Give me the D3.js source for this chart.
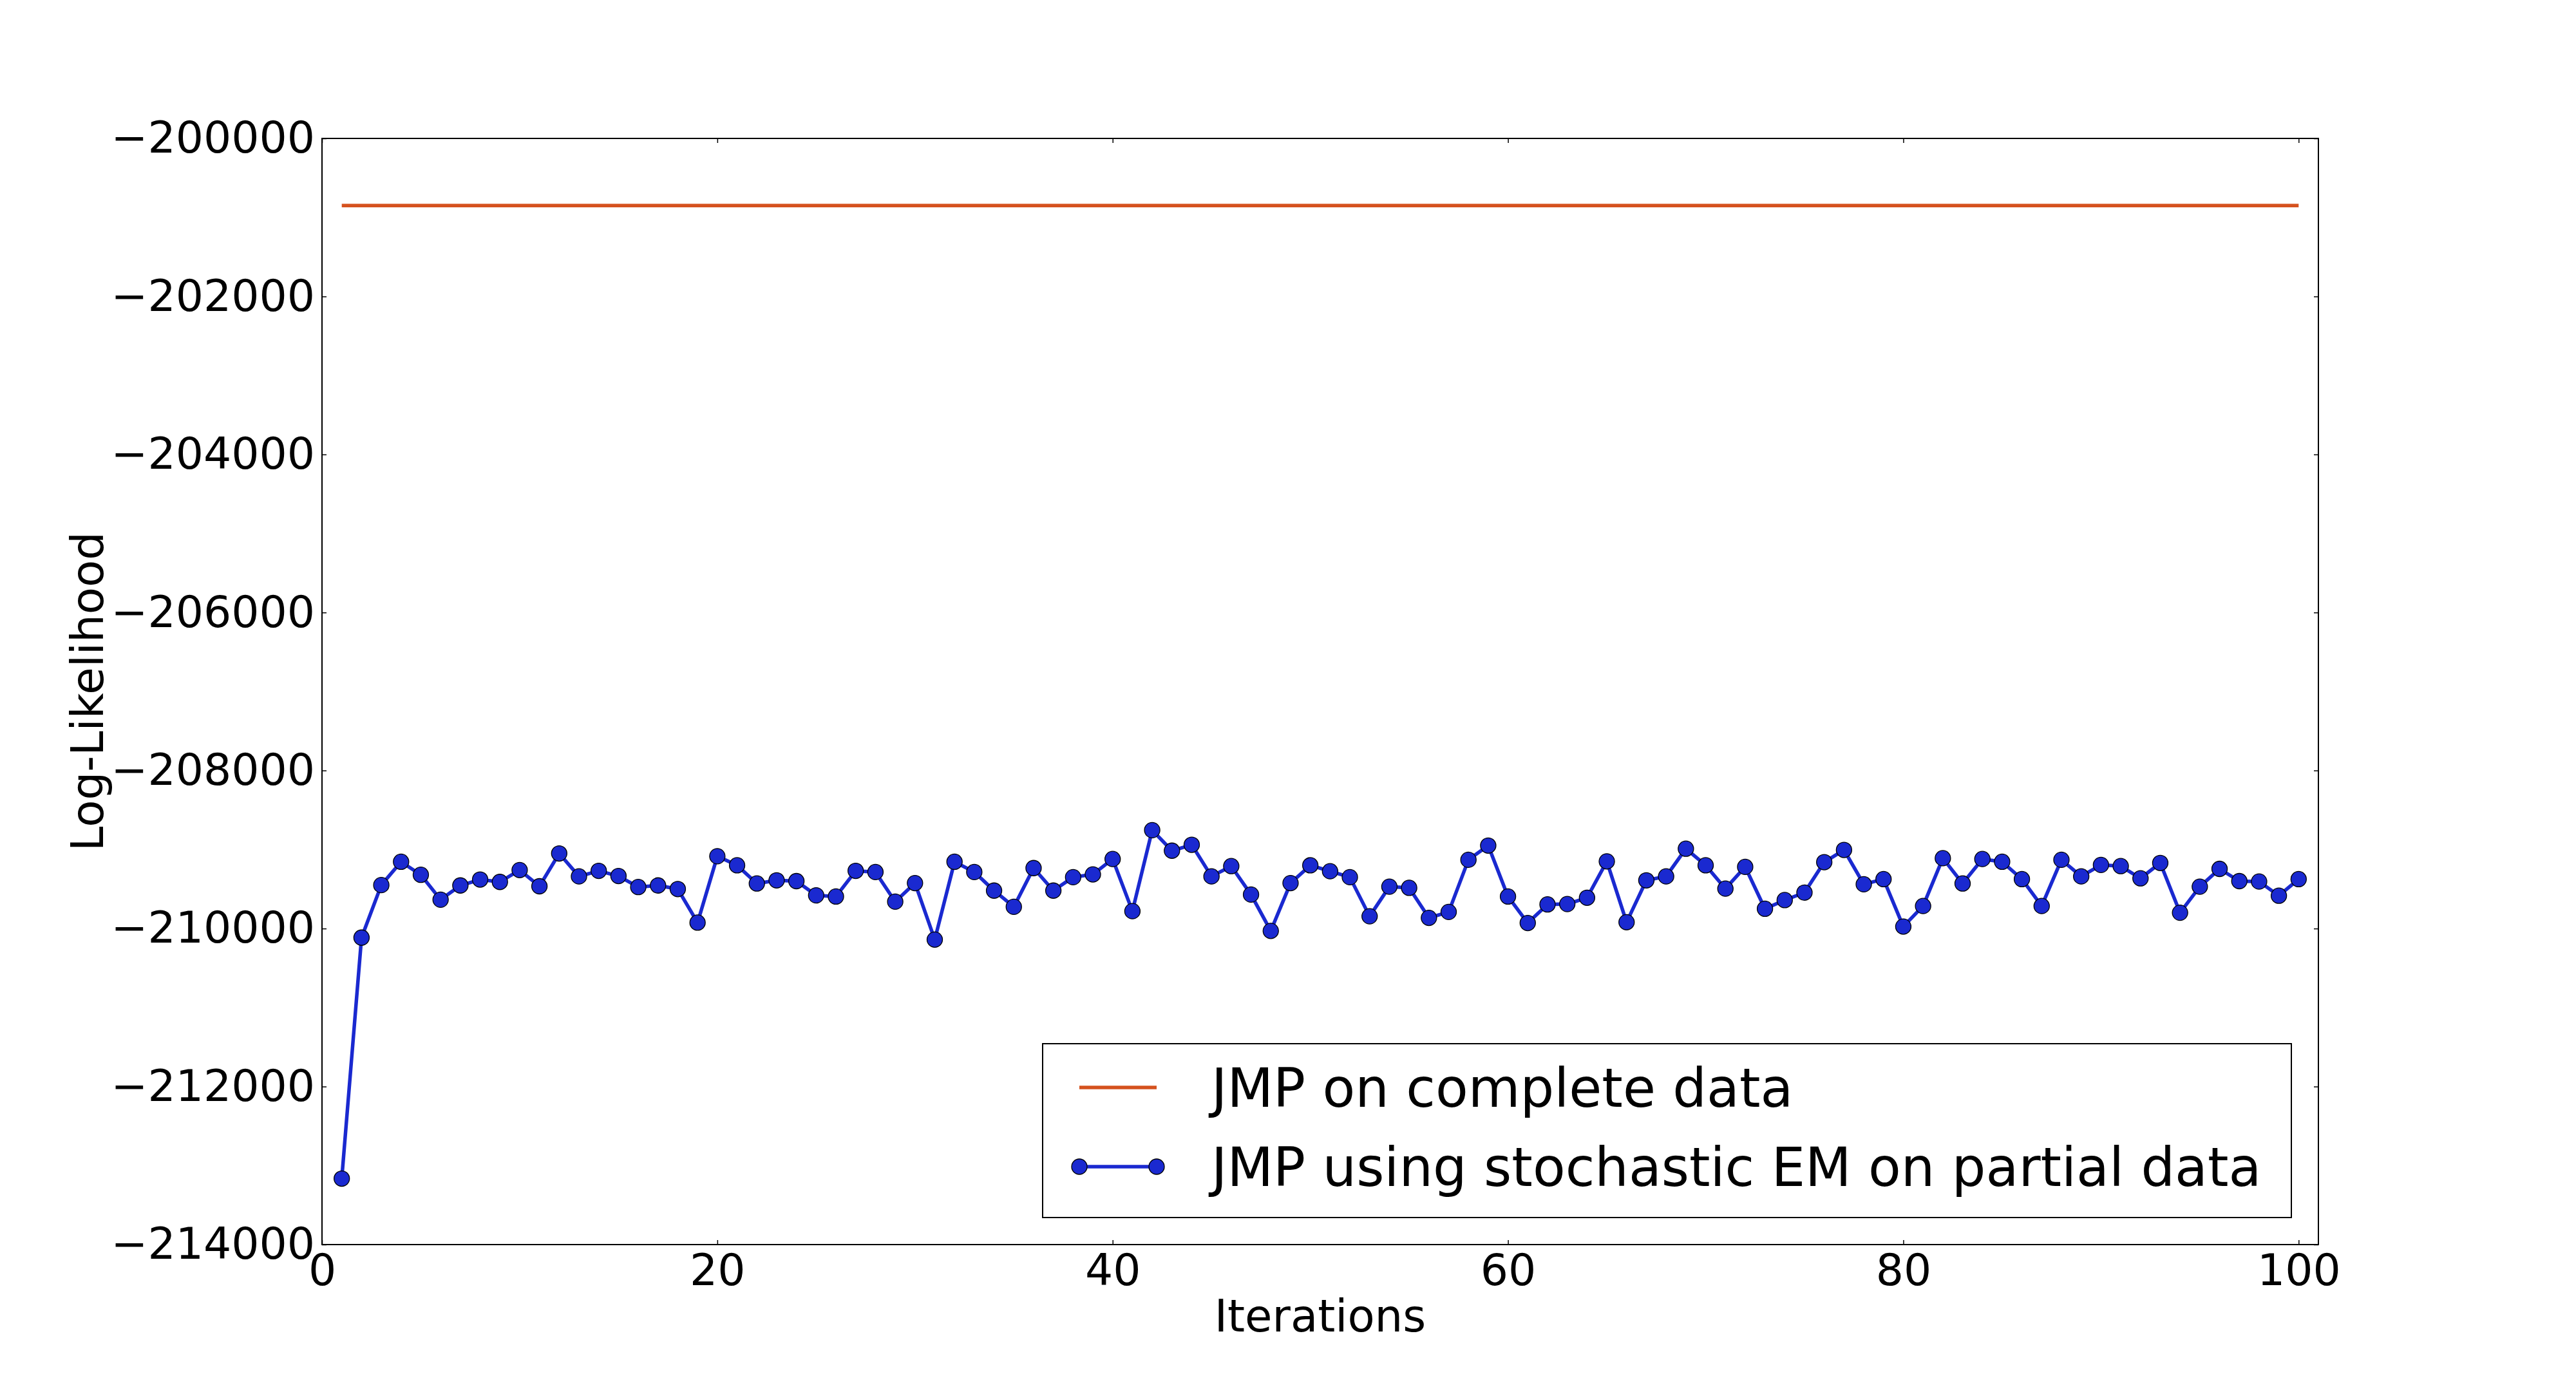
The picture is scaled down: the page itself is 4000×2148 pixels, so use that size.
<!DOCTYPE html>
<html>
<head>
<meta charset="utf-8">
<script src="https://cdn.jsdelivr.net/npm/d3@7"></script>
<style>
  body { margin: 0; background: #fff; }
  svg { display: block; font-family: "DejaVu Sans", sans-serif; }
</style>
</head>
<body>
<svg id="chart"></svg>
<script>
// iterations 1..100
const iterations = d3.range(1, 101);

// JMP using stochastic EM on partial data
const stochasticEM = [
  -213165, -210115, -209450, -209155, -209320, -209635, -209455, -209380, -209410, -209260,
  -209465, -209050, -209340, -209270, -209335, -209475, -209455, -209500, -209925, -209085,
  -209200, -209430, -209390, -209400, -209580, -209595, -209270, -209285, -209660, -209425,
  -210140, -209155, -209285, -209520, -209725, -209235, -209520, -209350, -209315, -209120,
  -209780, -208755, -209015, -208940, -209340, -209210, -209570, -210030, -209425, -209200,
  -209275, -209350, -209845, -209470, -209485, -209865, -209790, -209130, -208950, -209595,
  -209930, -209695, -209690, -209610, -209150, -209920, -209390, -209340, -208990, -209200,
  -209495, -209220, -209750, -209640, -209545, -209160, -209005, -209440, -209375, -209975,
  -209715, -209110, -209430, -209120, -209155, -209375, -209715, -209130, -209340, -209195,
  -209210, -209365, -209170, -209800, -209470, -209245, -209400, -209405, -209585, -209375
];

// JMP on complete data (constant)
const completeData = -200850;

const xTicks = [0, 20, 40, 60, 80, 100];
const yTicks = [-200000, -202000, -204000, -206000, -208000, -210000, -212000, -214000];

const seriesNames = ["JMP on complete data", "JMP using stochastic EM on partial data"];
const colors = { complete: "#d5521e", partial: "#1a29d0" };

const width = 4000;
const height = 2148;
const margin = { top: 215, right: 400, bottom: 215, left: 500 };

const svg = d3.select("#chart")
  .attr("width", width)
  .attr("height", height);

svg.append("rect").attr("width", width).attr("height", height).attr("fill", "#fff");

const x = d3.scaleLinear()
  .domain([0, 101])
  .range([margin.left, width - margin.right]);

const y = d3.scaleLinear()
  .domain([-214000, -200000])
  .range([height - margin.bottom, margin.top]);

const fmt = d3.format("d");

// X axis (bottom, with labels) and mirrored top
svg.append("g")
  .attr("transform", `translate(0,${y(-214000)})`)
  .call(d3.axisBottom(x).tickValues(xTicks).tickFormat(fmt).tickSize(-7).tickPadding(15));

svg.append("g")
  .attr("transform", `translate(0,${y(-200000)})`)
  .call(d3.axisTop(x).tickValues(xTicks).tickFormat("").tickSize(-7));

// Y axis (left, with labels) and mirrored right
svg.append("g")
  .attr("transform", `translate(${x(0)},0)`)
  .call(d3.axisLeft(y).tickValues(yTicks).tickFormat(fmt).tickSize(-7).tickPadding(11));

svg.append("g")
  .attr("transform", `translate(${x(101)},0)`)
  .call(d3.axisRight(y).tickValues(yTicks).tickFormat("").tickSize(-7));

svg.selectAll(".domain").remove();
svg.selectAll(".tick line").attr("stroke", "#000").attr("stroke-width", 1.5);
svg.selectAll(".tick text")
  .attr("fill", "#000")
  .style("font-size", "68px")
  .style("font-family", "DejaVu Sans");

// Frame
svg.append("rect")
  .attr("x", x(0))
  .attr("y", y(-200000))
  .attr("width", x(101) - x(0))
  .attr("height", y(-214000) - y(-200000))
  .attr("fill", "none")
  .attr("stroke", "#000")
  .attr("stroke-width", 2);

// Complete data line
svg.append("line")
  .attr("x1", x(iterations[0]))
  .attr("x2", x(iterations[iterations.length - 1]))
  .attr("y1", y(completeData))
  .attr("y2", y(completeData))
  .attr("stroke", colors.complete)
  .attr("stroke-width", 5.5);

// Stochastic EM line + markers
const pts = iterations.map((it, i) => ({ it, v: stochasticEM[i] }));

svg.append("path")
  .datum(pts)
  .attr("fill", "none")
  .attr("stroke", colors.partial)
  .attr("stroke-width", 5.5)
  .attr("stroke-linejoin", "round")
  .attr("d", d3.line().x((d) => x(d.it)).y((d) => y(d.v)));

svg.selectAll(".pt")
  .data(pts)
  .enter()
  .append("circle")
  .attr("class", "pt")
  .attr("cx", (d) => x(d.it))
  .attr("cy", (d) => y(d.v))
  .attr("r", 12)
  .attr("fill", colors.partial)
  .attr("stroke", "#000")
  .attr("stroke-width", 1.3);

// Axis labels
svg.append("text")
  .attr("x", (x(0) + x(101)) / 2)
  .attr("y", 2068)
  .attr("text-anchor", "middle")
  .style("font-size", "69px")
  .text("Iterations");

svg.append("text")
  .attr("transform", `translate(160,${(y(-200000) + y(-214000)) / 2}) rotate(-90)`)
  .attr("text-anchor", "middle")
  .style("font-size", "69px")
  .text("Log-Likelihood");

// Legend
const legend = svg.append("g");
legend.append("rect")
  .attr("x", 1619)
  .attr("y", 1621)
  .attr("width", 3558 - 1619)
  .attr("height", 1891 - 1621)
  .attr("fill", "#fff")
  .attr("stroke", "#000")
  .attr("stroke-width", 2);

const rows = [
  { name: seriesNames[0], color: colors.complete, marker: false, cy: 1689 },
  { name: seriesNames[1], color: colors.partial, marker: true, cy: 1812 },
];

rows.forEach((r) => {
  legend.append("line")
    .attr("x1", 1676).attr("x2", 1796)
    .attr("y1", r.cy).attr("y2", r.cy)
    .attr("stroke", r.color)
    .attr("stroke-width", 5.5);
  if (r.marker) {
    [1676, 1796].forEach((cx) => {
      legend.append("circle")
        .attr("cx", cx).attr("cy", r.cy).attr("r", 12)
        .attr("fill", r.color).attr("stroke", "#000").attr("stroke-width", 1.3);
    });
  }
  legend.append("text")
    .attr("x", 1881)
    .attr("y", r.cy + 30)
    .style("font-size", "83px")
    .text(r.name);
});
</script>
</body>
</html>
